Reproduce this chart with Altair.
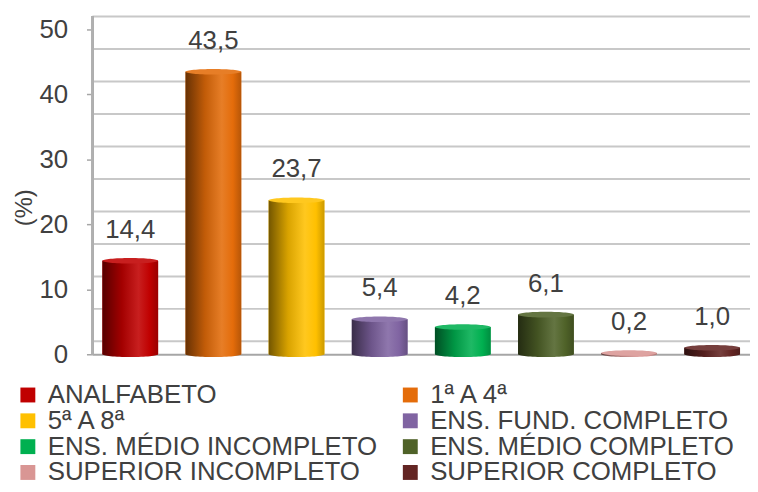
import altair as alt
import pandas as pd

categories = ["ANALFABETO", "1ª A 4ª", "5ª A 8ª", "ENS. FUND. COMPLETO",
              "ENS. MÉDIO INCOMPLETO", "ENS. MÉDIO COMPLETO",
              "SUPERIOR INCOMPLETO", "SUPERIOR COMPLETO"]
values = [14.4, 43.5, 23.7, 5.4, 4.2, 6.1, 0.2, 1.0]
colors = ["#C00000", "#E46C0A", "#FFC000", "#8064A2",
          "#00B050", "#4F6228", "#D99694", "#632523"]
y_ticks = [0, 10, 20, 30, 40, 50]
grid_values = [0, 5, 10, 15, 20, 25, 30, 35, 40, 45, 50]

FONT = "Liberation Sans"
TXT = "#404040"
W, H = 662, 327


def mix(c, other, t):
    a = [int(c[i:i + 2], 16) for i in (1, 3, 5)]
    b = [int(other[i:i + 2], 16) for i in (1, 3, 5)]
    m = [round(x * (1 - t) + y * t) for x, y in zip(a, b)]
    return "#%02x%02x%02x" % tuple(m)


def grad(c):
    return alt.Gradient(
        gradient="linear", x1=0, x2=1, y1=0, y2=0,
        stops=[alt.GradientStop(color=mix(c, "#000000", 0.55), offset=0),
               alt.GradientStop(color=mix(c, "#000000", 0.15), offset=0.35),
               alt.GradientStop(color=mix(c, "#ffffff", 0.12), offset=0.65),
               alt.GradientStop(color=c, offset=0.85),
               alt.GradientStop(color=mix(c, "#000000", 0.2), offset=1)])


df = pd.DataFrame({
    "cat": categories,
    "val": values,
    "zero": [0] * len(values),
    "label": [f"{v:.1f}".replace(".", ",") for v in values],
})
gdf = pd.DataFrame({"g": grid_values})

yscale = alt.Scale(domain=[0, 50], nice=False, zero=True)
yaxis = alt.Axis(values=y_ticks, grid=False, domainColor="#A6A6A6",
                 domainWidth=2, tickColor="#A6A6A6", tickSize=6,
                 tickWidth=1.5, labelPadding=19, labelFontSize=26,
                 labelFont=FONT, labelColor=TXT, title="(%)",
                 titleFont=FONT, titleFontSize=24,
                 titleFontWeight="normal", titleColor=TXT,
                 titleX=-68, titleY=179, titleAngle=270,
                 titleAlign="center", titleBaseline="middle")
xenc = alt.X("cat:N", sort=categories,
             scale=alt.Scale(paddingInner=0.33, paddingOuter=0.12),
             axis=alt.Axis(labels=False, ticks=False, title=None, grid=False,
                           domainColor="#A6A6A6", domainWidth=2))


def Y(field):
    return alt.Y(field, scale=yscale, axis=yaxis)


grid = alt.Chart(gdf).mark_rule(color="#C8C8C8", strokeWidth=2, yOffset=-13).encode(
    y=Y("g:Q"))

wall = alt.Chart(gdf).mark_rule(color="#B0B0B0", strokeWidth=2).encode(
    x=alt.value(0), y=alt.value(-13), y2=alt.value(H))

base = alt.Chart(df).mark_bar().encode(
    x=xenc,
    y=Y("val:Q"),
    y2="zero:Q",
    color=alt.Color("cat:N", sort=categories,
                    scale=alt.Scale(domain=categories, range=colors),
                    legend=alt.Legend(orient="none", legendX=-78, legendY=355,
                                      direction="horizontal",
                                      columns=2, symbolType="square",
                                      symbolSize=225, symbolStrokeWidth=0,
                                      labelFontSize=26, labelFont=FONT,
                                      labelColor=TXT, labelOffset=7,
                                      columnPadding=20, rowPadding=0,
                                      title=None, padding=0, labelLimit=500)),
)

ELL = "M-1,0A1,0.1,0,1,1,1,0A1,0.1,0,1,1,-1,0Z"
layers = [grid, wall, base]
for cat, col in zip(categories, colors):
    sub = alt.Chart(df).transform_filter(alt.datum.cat == cat)
    layers.append(sub.mark_point(shape=ELL, size=3136, filled=True, opacity=1,
                                 strokeWidth=0, fill=grad(col)).encode(
        x=xenc, y=Y("zero:Q")))
    layers.append(sub.mark_bar(fill=grad(col), strokeWidth=0).encode(
        x=xenc, y=Y("val:Q"), y2="zero:Q"))
    layers.append(sub.mark_point(shape=ELL, size=3136, filled=True, opacity=1,
                                 strokeWidth=0, fill=mix(col, "#ffffff", 0.12)).encode(
        x=xenc, y=Y("val:Q")))

labels = alt.Chart(df).mark_text(dy=-31, fontSize=26, font=FONT, color=TXT,
                                 baseline="middle").encode(
    x=xenc, y=Y("val:Q"), text="label:N")
layers.append(labels)

chart = alt.layer(*layers).properties(
    width=W, height=H,
    autosize=alt.AutoSizeParams(type="none"),
    padding={"left": 85, "top": 20, "right": 0, "bottom": 129},
    background="white",
).configure_view(stroke=None)

chart.save("out.html", embed_options={"renderer": "svg", "actions": False})
